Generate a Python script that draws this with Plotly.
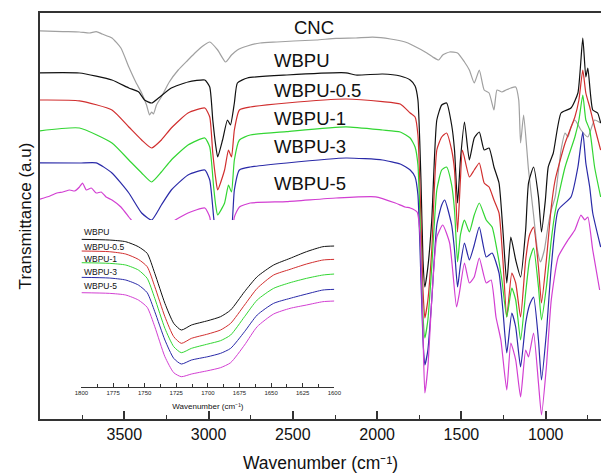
import plotly.graph_objects as go

# ---------------- main spectra (wavenumber cm-1, transmittance a.u.) ----------------
cnc_wn = [4000, 3865, 3766, 3707, 3666, 3631, 3573, 3520, 3473, 3432, 3397, 3368, 3350, 3338, 3327, 3309, 3280, 3233, 3180, 3122,
          3081, 3034, 2993, 2946, 2899, 2864, 2829, 2770, 2694, 2595, 2495, 2361, 2244, 2126, 2027, 1921, 1834, 1793, 1705, 1670,
          1635, 1611, 1570, 1523, 1482, 1453, 1424, 1394, 1365, 1336, 1307, 1289, 1260, 1236, 1207, 1178, 1160, 1149, 1131, 1102,
          1072, 1049, 1031, 1008, 985, 967, 944, 909, 885, 868, 850, 827, 791, 750, 710, 674]
cnc_t = [97.3, 97.1, 97.0, 96.75, 97.1, 96.5, 95.5, 93.0, 88.25, 84.5, 81.75, 78.75, 76.25, 77.0, 76.5, 78.75, 80.75, 84.5, 87.5, 90.0,
         91.75, 93.5, 94.5, 92.5, 89.5, 91.25, 92.5, 93.5, 94.25, 94.5, 94.75, 95.0, 95.4, 95.5, 95.7, 95.25, 94.5, 93.75, 91.75, 90.75,
         90.0, 91.25, 92.0, 91.75, 89.5, 87.5, 84.25, 87.5, 82.5, 81.75, 77.5, 82.5, 82.0, 82.5, 83.0, 83.25, 80.0, 69.25, 76.25, 62.5,
         51.25, 42.5, 39.5, 42.5, 48.75, 52.5, 55.75, 67.5, 71.75, 70.75, 73.25, 75.0, 72.5, 70.75, 75.0, 74.25]

wbpu_wn = [4000, 3766, 3573, 3473, 3414, 3380, 3338, 3297, 3221, 3122, 3022, 2993, 2975, 2958, 2946, 2917, 2888, 2870, 2847, 2829,
           2770, 2536, 2185, 2126, 1968, 1863, 1804, 1775, 1758, 1740, 1728, 1717, 1699, 1676, 1646, 1617, 1588, 1558, 1541, 1523,
           1506, 1482, 1453, 1424, 1394, 1365, 1336, 1307, 1277, 1254, 1231, 1207, 1178, 1149, 1119, 1102, 1072, 1043, 1025, 1002,
           985, 955, 909, 850, 809, 780, 762, 750, 721, 692, 674]
wbpu_t = [86.8, 86.75, 85.0, 83.0, 82.0, 80.0, 79.25, 80.5, 83.0, 84.5, 85.0, 83.25, 75.0, 68.75, 65.75, 70.0, 75.0, 73.75, 79.25, 84.25,
          85.5, 86.25, 86.8, 86.25, 86.5, 86.0, 85.0, 83.5, 80.0, 60.0, 40.0, 33.25, 38.25, 50.0, 75.0, 78.75, 79.25, 73.75, 67.5, 54.25,
          65.0, 74.5, 65.0, 70.5, 72.0, 67.5, 68.0, 63.25, 59.25, 47.5, 34.25, 45.75, 40.0, 35.75, 47.5, 59.25, 63.25, 55.75, 47.0, 55.0,
          63.25, 66.75, 76.75, 78.0, 81.75, 95.5, 85.75, 88.0, 77.5, 76.75, 74.25]

wbpu05_wn = [4000, 3766, 3573, 3473, 3397, 3338, 3280, 3221, 3122, 3022, 2993, 2975, 2958, 2946, 2905, 2882, 2864, 2847, 2817, 2753,
             2536, 2185, 1968, 1863, 1804, 1775, 1758, 1740, 1728, 1717, 1699, 1676, 1646, 1617, 1588, 1558, 1541, 1523, 1506, 1494,
             1453, 1424, 1394, 1365, 1336, 1307, 1277, 1254, 1231, 1201, 1178, 1149, 1119, 1096, 1072, 1043, 1025, 996, 967, 944,
             885, 827, 803, 780, 762, 739, 710, 674]
wbpu05_t = [80.0, 79.8, 77.5, 73.25, 70.0, 68.0, 70.0, 73.0, 76.75, 78.0, 75.75, 66.75, 60.5, 57.5, 62.5, 67.5, 65.75, 72.5, 77.5, 78.25,
            79.25, 80.25, 79.6, 79.0, 76.75, 75.75, 71.25, 50.0, 32.5, 25.5, 30.0, 42.5, 67.5, 70.75, 71.75, 67.5, 62.5, 47.0, 60.0, 67.5,
            60.75, 62.5, 64.25, 59.25, 58.25, 55.0, 51.75, 40.0, 25.75, 36.75, 34.25, 25.75, 40.0, 46.25, 48.25, 38.25, 29.25, 40.0, 53.25, 60.0,
            69.25, 75.75, 80.0, 87.5, 81.75, 78.25, 73.25, 67.5]

wbpu1_wn = [4000, 3766, 3573, 3473, 3397, 3338, 3280, 3221, 3122, 3022, 2993, 2970, 2958, 2946, 2905, 2882, 2864, 2847, 2817, 2753,
            2536, 2185, 1968, 1863, 1804, 1775, 1758, 1740, 1728, 1717, 1699, 1676, 1646, 1617, 1588, 1558, 1541, 1523, 1506, 1482,
            1453, 1424, 1394, 1353, 1318, 1289, 1260, 1231, 1201, 1178, 1149, 1119, 1096, 1072, 1043, 1025, 996, 967, 944, 885,
            827, 803, 780, 762, 739, 710, 674]
wbpu1_t = [72.3, 73.0, 69.25, 65.0, 61.75, 59.5, 62.0, 65.0, 68.75, 70.5, 68.25, 58.25, 53.75, 51.25, 54.25, 58.75, 57.0, 65.0, 70.0, 71.25,
           72.1, 73.3, 72.5, 72.0, 70.5, 68.25, 63.75, 42.5, 26.25, 20.5, 25.0, 38.25, 57.5, 62.5, 63.25, 58.75, 52.5, 39.5, 46.25, 50.0,
           47.0, 51.25, 54.25, 50.0, 48.25, 42.5, 35.0, 25.75, 33.0, 30.0, 20.0, 31.75, 40.0, 43.0, 33.25, 25.0, 33.25, 45.0, 52.0, 63.25,
           70.75, 75.0, 81.25, 75.0, 72.5, 63.25, 55.75]

wbpu3_wn = [4000, 3766, 3666, 3573, 3473, 3397, 3338, 3280, 3221, 3122, 3022, 2993, 2970, 2958, 2946, 2905, 2882, 2864, 2847, 2817,
            2753, 2536, 2185, 1968, 1863, 1804, 1775, 1758, 1740, 1728, 1717, 1699, 1676, 1646, 1617, 1599, 1558, 1541, 1523, 1506,
            1482, 1453, 1424, 1394, 1353, 1318, 1277, 1254, 1231, 1201, 1178, 1149, 1119, 1096, 1072, 1043, 1025, 996, 967, 926,
            850, 809, 780, 762, 739, 721, 674]
wbpu3_t = [64.3, 64.25, 64.3, 61.75, 56.75, 51.75, 50.0, 53.75, 57.5, 61.25, 62.5, 60.0, 50.75, 46.25, 43.25, 46.75, 49.25, 48.25, 57.5, 62.5,
           63.25, 64.25, 65.5, 65.0, 64.0, 62.5, 60.75, 56.25, 35.0, 20.0, 13.75, 17.5, 30.0, 48.75, 53.75, 55.0, 48.75, 42.5, 33.25, 38.75,
           44.25, 40.0, 43.75, 48.25, 40.75, 41.75, 36.75, 27.5, 16.75, 26.75, 23.25, 13.25, 24.25, 28.75, 30.75, 20.0, 10.0, 21.75, 38.25, 52.5,
           55.75, 63.25, 72.0, 64.25, 58.25, 51.75, 43.25]

wbpu5_wn = [4000, 3941, 3900, 3865, 3824, 3795, 3766, 3748, 3725, 3696, 3666, 3637, 3608, 3573, 3520, 3473, 3414, 3373, 3338, 3297,
            3221, 3122, 3022, 2993, 2970, 2958, 2946, 2905, 2882, 2870, 2847, 2817, 2753, 2536, 2244, 2009, 1892, 1834, 1804, 1763,
            1746, 1728, 1717, 1699, 1676, 1646, 1611, 1570, 1529, 1512, 1482, 1453, 1424, 1394, 1353, 1324, 1295, 1266, 1231, 1207,
            1178, 1149, 1119, 1102, 1072, 1043, 1025, 996, 967, 926, 868, 827, 791, 768, 750, 721, 680]
wbpu5_t = [55.2, 56.0, 56.75, 57.0, 57.5, 57.25, 58.25, 59.25, 57.5, 58.0, 56.75, 57.0, 55.75, 55.0, 53.25, 50.75, 47.5, 43.75, 41.75, 44.25,
           49.25, 51.75, 53.0, 50.75, 42.5, 38.0, 35.0, 40.0, 43.0, 41.75, 50.75, 53.25, 54.25, 54.6, 55.5, 55.8, 54.25, 53.25, 53.0, 52.0,
           46.75, 21.75, 6.75, 13.25, 30.0, 45.75, 48.75, 44.25, 28.25, 31.75, 39.25, 34.25, 35.75, 40.5, 34.25, 35.0, 25.75, 20.0, 7.5, 19.25,
           15.0, 5.75, 17.5, 15.75, 21.75, 9.25, 1.25, 13.25, 30.0, 40.75, 45.0, 47.5, 51.25, 50.0, 50.75, 42.5, 32.5]

# ---------------- inset (carbonyl region) ----------------
inset_wn = [1800, 1778, 1765, 1755, 1748, 1742, 1734, 1727, 1721, 1713, 1700, 1690, 1682, 1671, 1661, 1648, 1635, 1622, 1609, 1600]
inset_wbpu = [88.4, 88.0, 87.0, 84.0, 80.0, 68.0, 50.0, 38.0, 34.0, 37.0, 39.6, 42.0, 46.0, 57.0, 66.0, 73.0, 77.0, 81.0, 84.0, 84.4]
inset_wbpu05 = [81.4, 81.0, 79.6, 76.4, 72.0, 60.0, 42.0, 30.0, 26.0, 29.0, 31.6, 34.0, 38.0, 49.0, 59.0, 67.0, 70.4, 73.6, 76.0, 76.4]
inset_wbpu1 = [74.4, 74.0, 73.0, 70.0, 65.0, 53.0, 35.0, 24.0, 20.4, 23.0, 25.6, 27.6, 31.0, 42.0, 52.0, 59.0, 62.4, 65.0, 67.0, 67.6]
inset_wbpu3 = [65.6, 65.2, 64.0, 61.0, 56.4, 45.0, 28.0, 17.0, 13.6, 16.0, 18.0, 20.0, 23.0, 33.0, 43.0, 50.0, 53.0, 55.6, 58.0, 58.4]
inset_wbpu5 = [56.4, 56.0, 55.0, 52.0, 47.6, 36.0, 18.0, 8.4, 6.0, 7.6, 9.6, 11.4, 14.4, 25.0, 36.0, 43.6, 47.0, 49.0, 51.0, 51.4]

series_names = ["CNC", "WBPU", "WBPU-0.5", "WBPU-1", "WBPU-3", "WBPU-5"]
main_tick_vals = [3500, 3000, 2500, 2000, 1500, 1000]
main_minor_vals = [3750, 3250, 2750, 2250, 1750, 1250, 750]
inset_tick_vals = [1800, 1775, 1750, 1725, 1700, 1675, 1650, 1625, 1600]
inset_minor_vals = [1787.5, 1762.5, 1737.5, 1712.5, 1687.5, 1662.5, 1637.5, 1612.5]

colors = ["#a0a0a0", "#111111", "#d12f2f", "#33d633", "#2a2aa8", "#d23fd2"]

main_data = [(cnc_wn, cnc_t), (wbpu_wn, wbpu_t), (wbpu05_wn, wbpu05_t),
             (wbpu1_wn, wbpu1_t), (wbpu3_wn, wbpu3_t), (wbpu5_wn, wbpu5_t)]
inset_data = [inset_wbpu, inset_wbpu05, inset_wbpu1, inset_wbpu3, inset_wbpu5]
for wn, t in main_data:
    assert len(wn) == len(t), (len(wn), len(t))
for t in inset_data:
    assert len(t) == len(inset_wn)

FONT = "Liberation Sans, Arial, sans-serif"
fig = go.Figure()
for (wn, t), name, c in zip(main_data, series_names, colors):
    fig.add_trace(go.Scatter(x=wn, y=t, mode="lines", name=name,
                             line=dict(color=c, width=1.2, shape="spline", smoothing=0.5),
                             showlegend=False, hoverinfo="skip"))
for t, name, c in zip(inset_data, series_names[1:], colors[1:]):
    fig.add_trace(go.Scatter(x=inset_wn, y=t, mode="lines", name=name + " (inset)",
                             line=dict(color=c, width=1.0, shape="spline", smoothing=0.6),
                             xaxis="x2", yaxis="y2", showlegend=False, hoverinfo="skip"))

axis_color = "#333333"
fig.update_layout(
    width=608, height=474,
    margin=dict(l=40, r=0, t=13, b=55),
    paper_bgcolor="white", plot_bgcolor="white",
    font=dict(family=FONT, color="#111111"),
    xaxis=dict(range=[4000, 672], showgrid=False, zeroline=False,
               showline=True, linecolor=axis_color, linewidth=1.6, mirror=True,
               tickmode="array", tickvals=main_tick_vals, ticktext=[str(v) for v in main_tick_vals],
               ticks="inside", ticklen=8, tickwidth=1.5, tickcolor=axis_color,
               tickfont=dict(size=16, family=FONT, color="#111111"),
               minor=dict(tickmode="array", tickvals=main_minor_vals, ticks="inside",
                          ticklen=4, tickwidth=1.3, tickcolor=axis_color),
               title=dict(text="Wavenumber (cm\u207b\u00b9)", standoff=15,
                          font=dict(size=17.5, family=FONT, color="#111111"))),
    yaxis=dict(range=[0.25, 101.75], showgrid=False, zeroline=False,
               showline=True, linecolor=axis_color, linewidth=1.6, mirror=False,
               showticklabels=False, ticks="",
               title=dict(text="Transmittance (a.u)", standoff=2,
                          font=dict(size=17, family=FONT, color="#111111"))),
    xaxis2=dict(domain=[0.0739, 0.5246], anchor="y2", range=[1800, 1600],
                showgrid=False, zeroline=False, showline=True, linecolor=axis_color, linewidth=1,
                tickmode="array", tickvals=inset_tick_vals, ticktext=[str(v) for v in inset_tick_vals],
                ticks="inside", ticklen=4, tickwidth=1, tickcolor=axis_color,
                tickfont=dict(size=6, family=FONT, color="#222222"),
                minor=dict(tickmode="array", tickvals=inset_minor_vals, ticks="inside",
                           ticklen=2.5, tickwidth=1, tickcolor=axis_color),
                title=dict(text="Wavenumber (cm\u207b\u00b9)", standoff=8,
                           font=dict(size=8, family=FONT, color="#111111"))),
    yaxis2=dict(domain=[0.0796, 0.4901], anchor="x2", range=[0, 100], visible=False),
)

ann = []
# curve labels (main)
label_pos = [(0.449, 0.9655), (0.4137, 0.884), (0.4137, 0.810), (0.4137, 0.741), (0.4137, 0.670), (0.4137, 0.579)]
for name, (px, py) in zip(series_names, label_pos):
    ann.append(dict(text=name, x=px, y=py, xref="paper", yref="paper", xanchor="left", yanchor="middle",
                    showarrow=False, font=dict(size=18.5, family=FONT, color="#111111")))
# inset labels
inset_label_y = [0.4606, 0.4236, 0.394, 0.362, 0.3276]
for name, py in zip(series_names[1:], inset_label_y):
    ann.append(dict(text=name, x=0.0757, y=py, xref="paper", yref="paper", xanchor="left", yanchor="middle",
                    showarrow=False, font=dict(size=8.5, family=FONT, color="#111111")))
fig.update_layout(annotations=ann)

fig.write_html("out.html")
